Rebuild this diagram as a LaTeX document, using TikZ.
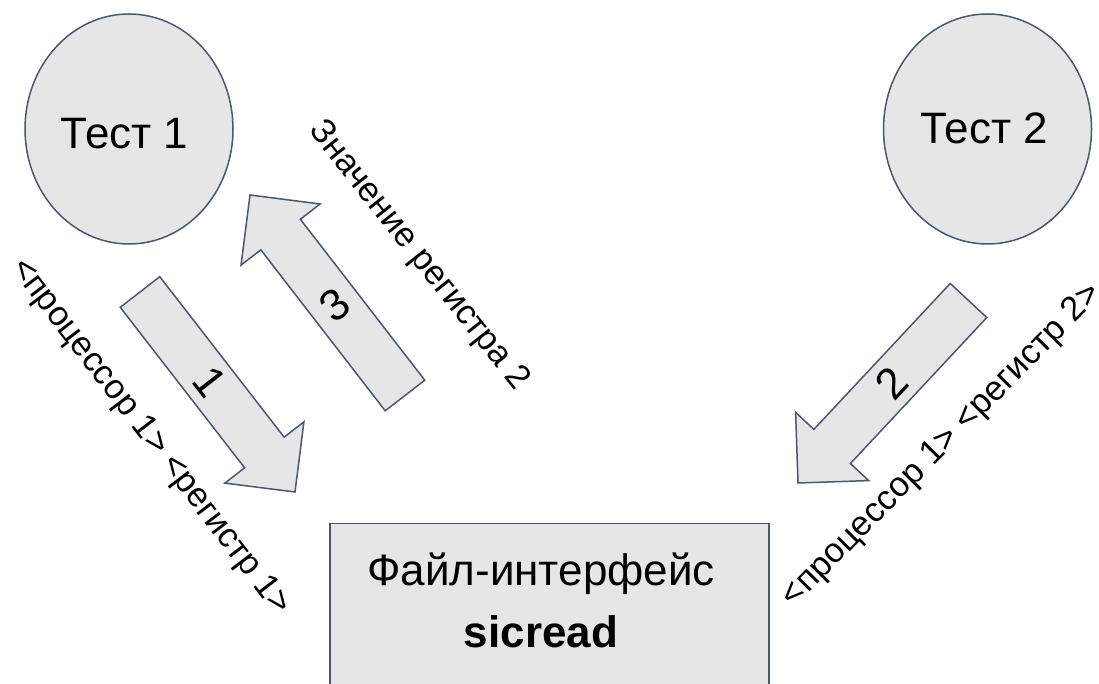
\documentclass[tikz,border=0pt]{standalone}
\usepackage{fontspec}
\setmainfont{Liberation Sans}
\usetikzlibrary{shapes.geometric,calc}

\definecolor{shapefill}{HTML}{E6E6E6}
\definecolor{shapeedge}{HTML}{4A586C}

% Block arrow from tail (#1) to tip (#2): shaft 50 wide, head 100 wide and 50 long
\newcommand\drawblockarrow[2]{%
  \coordinate (ba-head) at ($(#2)!50pt!(#1)$);
  \draw[shapebase, line join=miter]
    ($(#1)!25pt!90:(#2)$) -- ($(ba-head)!25pt!90:(#2)$) -- ($(ba-head)!50pt!90:(#2)$)
    -- (#2)
    -- ($(ba-head)!50pt!-90:(#2)$) -- ($(ba-head)!25pt!-90:(#2)$) -- ($(#1)!25pt!-90:(#2)$)
    -- cycle;}

\begin{document}
\begin{tikzpicture}[x=1pt,y=1pt,
  shapebase/.style={draw=shapeedge, fill=shapefill, line width=1.5pt},
  testnode/.style={shapebase, ellipse, minimum width=208pt, minimum height=230pt, inner sep=0pt},
  bigtext/.style={font=\fontsize{44}{62}\selectfont, inner sep=0pt},
  numtext/.style={font=\fontsize{44}{53}\selectfont, inner sep=0pt},
  sidetext/.style={font=\fontsize{34.5}{41}\selectfont, inner sep=0pt},
]
\useasboundingbox (0,0) rectangle (1099,684);
\clip (0,0) rectangle (1099,684);

% tests
\node[testnode] (t1) at (129,555) {};
\node[testnode] (t2) at (987.5,555) {};
\node[bigtext] (t1text) at (124.5,550) {Тест 1};
\node[bigtext] (t2text) at (984,556) {Тест 2};

% file interface
\node[shapebase, minimum width=439pt, minimum height=186pt, anchor=north west, inner sep=0pt] (iface) at (329,161) {};
\node[bigtext, align=center] (ifacetext) at (541,84) {Файл-интерфейс\\\textbf{sicread}};

% request / reply arrows
\coordinate (a1tail) at (140,392);   \coordinate (a1tip) at (295,192);
\coordinate (a3tail) at (405,288.5); \coordinate (a3tip) at (250,489);
\coordinate (a2tail) at (968.5,383.5); \coordinate (a2tip) at (798,201);
\drawblockarrow{a1tail}{a1tip}
\drawblockarrow{a3tail}{a3tip}
\drawblockarrow{a2tail}{a2tip}
\node[numtext, rotate=-52] (n1) at ($(a1tail)!0.45!(a1tip)$) {1};
\node[numtext, rotate=38]  (n3) at ($(a3tail)!0.45!(a3tip)$) {3};
\node[numtext, rotate=47]  (n2) at ($(a2tail)!0.45!(a2tip)$) {2};

% messages
\node[sidetext, rotate=-52.6] (msg1) at (150,246.5) {<процессор 1> <регистр 1>};
\node[sidetext, rotate=45.4]  (msg2) at (942,238) {<процессор 1> <регистр 2>};
\node[sidetext, rotate=-51.5] (msg3) at (418.5,428) {Значение регистра 2};
\end{tikzpicture}
\end{document}
